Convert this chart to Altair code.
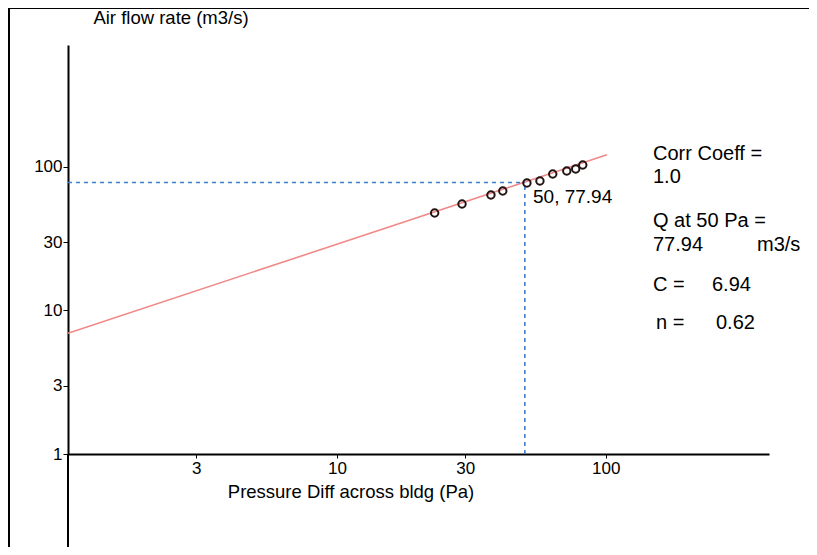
import altair as alt
import pandas as pd

# ---- data ----
pressure = [23.1, 29.2, 37.4, 41.4, 50.9, 56.9, 63.5, 71.6, 77.3, 82.1]
flow = [47.8, 55.2, 63.8, 68.0, 77.3, 79.9, 89.4, 93.8, 96.9, 103.2]
fit_pressure = [1, 101]
fit_flow = [6.94, 121.5]
ref_pressure = 50
ref_flow = 77.94
x_ticks = [3, 10, 30, 100]
y_ticks = [1, 3, 10, 30, 100]
x_domain = [1, 404.6]
y_domain = [1, 708]

x_title = "Pressure Diff across bldg (Pa)"
y_title = "Air flow rate (m3/s)"
ref_label = "50, 77.94"
stat_texts = ["Corr Coeff =", "1.0", "Q at 50 Pa =", "77.94", "m3/s", "C =", "6.94", "n =", "0.62"]
stat_px = [653, 653, 653, 653, 757, 653, 712, 656, 716]
stat_py = [154, 177, 221, 245, 245, 285, 285, 323, 323]

# ---- layout ----
F = "Liberation Sans"
W, H = 701, 409
PL, PT = 60, 37
TOTAL_W = 817 - 16
TOTAL_H = 555 - 16
OX, OY = 8 + PL, 8 + PT  # page position of plot origin

xs = alt.Scale(type="log", domain=x_domain, nice=False)
ys = alt.Scale(type="log", domain=y_domain, nice=False)

x_axis = alt.Axis(values=x_ticks, format="d", labelFontSize=17, labelFont=F, labelColor="black",
                  domainColor="black", domainWidth=2, tickColor="black", tickSize=4, tickWidth=1,
                  grid=False, title=None, labelPadding=2, labelFlush=False, labelOverlap=False)
y_axis = alt.Axis(values=y_ticks, format="d", labelFontSize=17, labelFont=F, labelColor="black",
                  domainColor="black", domainWidth=2, tickColor="black", tickSize=5, tickWidth=1,
                  grid=False, title=None, labelPadding=1, labelFlush=False, labelOverlap=False)

pts = pd.DataFrame({"P": pressure, "Q": flow})
fit = pd.DataFrame({"P": fit_pressure, "Q": fit_flow})
refs = pd.DataFrame({
    "P": [x_domain[0], ref_pressure],
    "P2": [ref_pressure, ref_pressure],
    "Q": [ref_flow, y_domain[0]],
    "Q2": [ref_flow, ref_flow],
})

fit_layer = alt.Chart(fit).mark_line(color="#f08a8a", strokeWidth=1.6).encode(
    x=alt.X("P:Q", scale=xs, axis=x_axis),
    y=alt.Y("Q:Q", scale=ys, axis=y_axis),
)
ref_layer = alt.Chart(refs).mark_rule(color="#3f7fc8", strokeWidth=1.6, strokeDash=[4, 4]).encode(
    x=alt.X("P:Q", scale=xs, axis=x_axis), x2="P2:Q",
    y=alt.Y("Q:Q", scale=ys, axis=y_axis), y2="Q2:Q",
)
pt_layer = alt.Chart(pts).mark_point(shape="circle", filled=False, color="#231414",
                                     strokeWidth=2, size=55, opacity=1).encode(
    x=alt.X("P:Q", scale=xs, axis=x_axis),
    y=alt.Y("Q:Q", scale=ys, axis=y_axis),
)

layers = [fit_layer, ref_layer, pt_layer]


def txt(s, px, py, size, align="left"):
    return alt.Chart(pd.DataFrame({"t": [s]})).mark_text(
        font=F, fontSize=size, color="black", align=align, baseline="middle"
    ).encode(x=alt.value(px - OX), y=alt.value(py - OY), text="t:N")


layers.append(txt(ref_label, 533, 197, 19))
for s, px, py in zip(stat_texts, stat_px, stat_py):
    layers.append(txt(s, px, py, 20))
layers.append(txt(x_title, 351, 492, 18.5, "center"))
layers.append(txt(y_title, 171, 18, 18.5, "center"))

one = pd.DataFrame({"a": [0]})
# frame lines and y-axis extension below the x axis
layers.append(alt.Chart(one).mark_rule(color="black", strokeWidth=2).encode(
    x=alt.value(9 - OX), y=alt.value(8 - OY), y2=alt.value(560 - OY)))
layers.append(alt.Chart(one).mark_rule(color="black", strokeWidth=2).encode(
    x=alt.value(9 - OX), x2=alt.value(820 - OX), y=alt.value(8 - OY)))
layers.append(alt.Chart(one).mark_rule(color="black", strokeWidth=2).encode(
    x=alt.value(0), y=alt.value(H), y2=alt.value(560 - OY)))

chart = alt.layer(*layers).properties(
    width=W, height=H,
    padding={"left": PL, "top": PT, "right": TOTAL_W - PL - W, "bottom": TOTAL_H - PT - H},
    autosize=alt.AutoSizeParams(type="none"),
    background="white",
).configure_view(stroke=None)

chart.save("out.html", embed_options={"renderer": "svg", "actions": False})
